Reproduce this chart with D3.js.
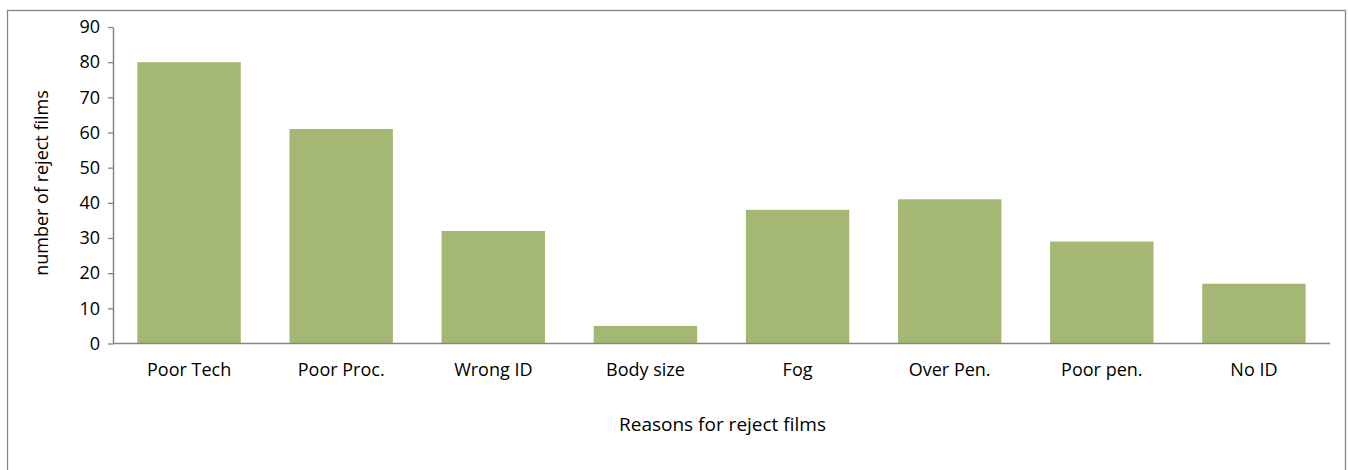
<!DOCTYPE html>
<html>
<head>
<meta charset="utf-8">
<script src="https://cdn.jsdelivr.net/npm/d3@7"></script>
<style>
  html, body { margin: 0; padding: 0; background: #fff; }
  svg { display: block; }
  text { font-family: "Open Sans", "Liberation Sans", sans-serif; fill: #000; }
</style>
</head>
<body>
<svg id="chart" width="1348" height="470"></svg>
<script>
// Reject film counts by reason
const categories = ["Poor Tech", "Poor Proc.", "Wrong ID", "Body size", "Fog", "Over Pen.", "Poor pen.", "No ID"];
const rejectCounts = [80, 61, 32, 5, 38, 41, 29, 17];
const yTicks = [0, 10, 20, 30, 40, 50, 60, 70, 80, 90];

const svg = d3.select("#chart");
const margin = { left: 113, right: 18, top: 27, bottom: 126 };
const width = 1348, height = 470;
const fontFamily = '"Open Sans", sans-serif';

// chart frame
svg.append("rect")
  .attr("x", 7.5).attr("y", 10.5)
  .attr("width", 1338).attr("height", 470)
  .attr("fill", "none").attr("stroke", "#878787").attr("stroke-width", 1.3);

const x = d3.scaleBand()
  .domain(categories)
  .range([margin.left, width - margin.right])
  .paddingInner(0.32)
  .paddingOuter(0.16);

const y = d3.scaleLinear()
  .domain([0, 90])
  .range([height - margin.bottom - 0.5, margin.top]);

// bars
svg.append("g").selectAll("rect")
  .data(categories)
  .join("rect")
  .attr("x", d => x(d))
  .attr("width", x.bandwidth())
  .attr("y", (d, i) => y(rejectCounts[i]))
  .attr("height", (d, i) => y(0) - y(rejectCounts[i]))
  .attr("fill", "#a5b775");

// y axis
const yAxis = svg.append("g")
  .attr("transform", `translate(${margin.left},0)`)
  .call(d3.axisLeft(y).tickValues(yTicks).tickSize(5).tickPadding(8).tickSizeOuter(0));
yAxis.select(".domain").attr("stroke", "#868686").attr("stroke-width", 1.5);
yAxis.selectAll(".tick line").attr("stroke", "#868686").attr("stroke-width", 1.3);
yAxis.selectAll(".tick text").attr("font-size", 18).style("font-family", fontFamily);

// x axis
const xAxis = svg.append("g")
  .attr("transform", `translate(0,${y(0)})`)
  .call(d3.axisBottom(x).tickSize(0));
xAxis.select(".domain").attr("stroke", "#868686").attr("stroke-width", 1.5)
  .attr("d", `M${margin.left},0H${width - margin.right}`);
xAxis.selectAll(".tick text")
  .attr("font-size", 18)
  .style("font-family", fontFamily)
  .attr("dy", null)
  .attr("y", 32);

// axis titles
svg.append("text")
  .attr("x", (margin.left + width - margin.right) / 2 + 1)
  .attr("y", 431)
  .attr("text-anchor", "middle")
  .attr("font-size", 19)
  .text("Reasons for reject films");

svg.append("text")
  .attr("transform", `translate(48,183) rotate(-90)`)
  .attr("text-anchor", "middle")
  .attr("font-size", 18)
  .text("number of reject films");
</script>
</body>
</html>
